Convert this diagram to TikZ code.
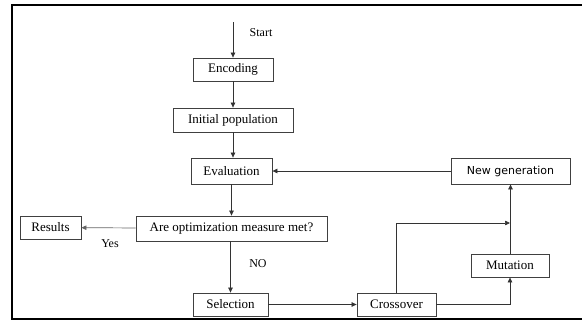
\documentclass[tikz,border=0pt]{standalone}
\usepackage{fontspec}
\setmainfont{Liberation Serif}
\newfontfamily\ngfont{DejaVu Sans}
\usetikzlibrary{arrows.meta}
\begin{document}
\begin{tikzpicture}[x=1pt,y=-1pt,
  box/.style={draw=black!75,line width=0.8pt,inner sep=0pt,font=\fontsize{13}{15}\selectfont},
  conn/.style={line width=0.7pt,draw=black!80},
  arr/.style={conn,-{Triangle[length=5pt,width=4.5pt]}},
  lbl/.style={font=\fontsize{12}{14}\selectfont}]
\useasboundingbox (0,0) rectangle (582,322);
\draw[line width=2pt] (582,5) -- (12,5) -- (12,319) -- (582,319);
\node[box,minimum width=80pt,minimum height=23pt] (enc) at (233,69.5) {Encoding};
\node[box,minimum width=120pt,minimum height=24pt] (init) at (233,120) {Initial population};
\node[box,minimum width=81pt,minimum height=26pt] (eval) at (231.5,171) {Evaluation};
\node[box,minimum width=191pt,minimum height=25pt] (are) at (231.5,228.5) {Are optimization measure met?};
\node[box,minimum width=61pt,minimum height=23pt] (res) at (50.5,227.5) {Results};
\node[box,minimum width=75pt,minimum height=23pt] (sel) at (230.5,304.5) {Selection};
\node[box,minimum width=79pt,minimum height=23pt] (cross) at (396.5,304.5) {Crossover};
\node[box,minimum width=78pt,minimum height=23pt] (mut) at (510,265.5) {Mutation};
\node[box,minimum width=119pt,minimum height=26pt,font=\ngfont\fontsize{11}{13}\selectfont] (newg) at (510.5,171) {New generation};
\coordinate (start) at (233,22);
\coordinate (join) at (510,223);
\node[lbl] (startl) at (261,33) {Start};
\node[lbl] (yes) at (110,244) {Yes};
\node[lbl] (no) at (258,264) {NO};
\draw[arr] (start) -- (enc.north);
\draw[arr] (enc) -- (init);
\draw[arr] (init) -- (init.south |- eval.north);
\draw[arr] (eval) -- (eval.south |- are.north);
\draw[arr,draw=black!60] (are) -- (res);
\draw[arr] (are.south -| sel.north) -- (sel.north);
\draw[arr] (sel) -- (cross);
\draw[arr] (cross.north) |- (join);
\draw[arr] (cross.east) -| (mut.south);
\draw[arr] (mut.north -| newg.south) -- (newg.south);
\draw[arr] (newg) -- (eval);
\end{tikzpicture}
\end{document}
